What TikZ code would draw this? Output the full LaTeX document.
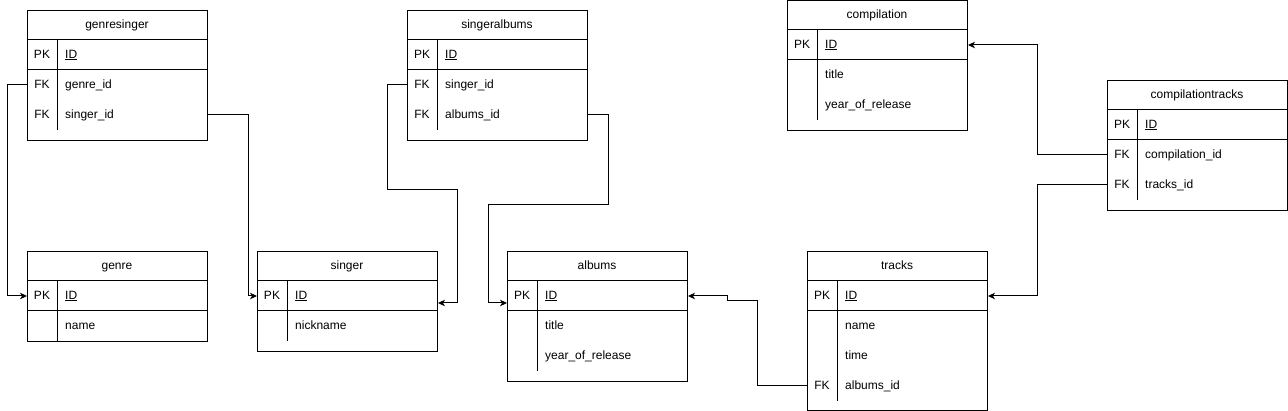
\documentclass[tikz,border=0pt]{standalone}
\usepackage{fontspec}
\setmainfont{Liberation Sans}
\usepackage{xcolor}
\usepackage{tikz}
\usetikzlibrary{positioning, arrows.meta, calc}
\definecolor{lineBlack}{HTML}{000000}
\definecolor{bodyText}{HTML}{000000}
\newcommand{\erfont}{\fontsize{12}{14}\selectfont}

\begin{document}
\begin{tikzpicture}[
  x=1pt, y=-1pt,
  every node/.style={font=\erfont, text=bodyText, inner sep=0pt,
                     text height=8.6pt, text depth=2.4pt},
  tbl/.style={rectangle, draw=lineBlack, line width=1pt, fill=white,
              minimum width=180pt, anchor=north west, text height=, text depth=},
  ttl/.style={anchor=center},
  keycol/.style={anchor=center},
  fld/.style={anchor=west},
  rule/.style={draw=lineBlack, line width=1pt},
  fk/.style={-{Stealth[length=7pt, width=6.5pt, inset=2pt]}, draw=lineBlack, line width=1pt},
]
  \useasboundingbox (0,0) rectangle (1288,411);

  % ═══ genresinger ═══
  \node[tbl, minimum height=130pt] at (27,10) (genresinger) {};
  \node[ttl] at (117,25) (gs_title) {genresinger};
  \draw[rule] (27,40) -- (207,40);
  \draw[rule] (27,70) -- (207,70);
  \draw[rule] (57,40) -- (57,130);
  \node[keycol] at (42,55) (gs_pk) {PK};
  \node[fld] at (65,55) (gs_id) {\underline{ID}};
  \node[keycol] at (42,85) (gs_fk1) {FK};
  \node[fld] at (65,85) (gs_genre) {genre\_id};
  \node[keycol] at (42,115) (gs_fk2) {FK};
  \node[fld] at (65,115) (gs_singer) {singer\_id};

  % ═══ genre ═══
  \node[tbl, minimum height=90pt] at (27,251) (genre) {};
  \node[ttl] at (117,266) (g_title) {genre};
  \draw[rule] (27,281) -- (207,281);
  \draw[rule] (27,311) -- (207,311);
  \draw[rule] (57,281) -- (57,341);
  \node[keycol] at (42,296) (g_pk) {PK};
  \node[fld] at (65,296) (g_id) {\underline{ID}};
  \node[fld] at (65,326) (g_name) {name};

  % ═══ singer ═══
  \node[tbl, minimum height=100pt] at (257,251) (singer) {};
  \node[ttl] at (347,266) (s_title) {singer};
  \draw[rule] (257,281) -- (437,281);
  \draw[rule] (257,311) -- (437,311);
  \draw[rule] (287,281) -- (287,341);
  \node[keycol] at (272,296) (s_pk) {PK};
  \node[fld] at (295,296) (s_id) {\underline{ID}};
  \node[fld] at (295,326) (s_nick) {nickname};

  % ═══ singeralbums ═══
  \node[tbl, minimum height=130pt] at (407,10) (singeralbums) {};
  \node[ttl] at (497,25) (sa_title) {singeralbums};
  \draw[rule] (407,40) -- (587,40);
  \draw[rule] (407,70) -- (587,70);
  \draw[rule] (437,40) -- (437,130);
  \node[keycol] at (422,55) (sa_pk) {PK};
  \node[fld] at (445,55) (sa_id) {\underline{ID}};
  \node[keycol] at (422,85) (sa_fk1) {FK};
  \node[fld] at (445,85) (sa_singer) {singer\_id};
  \node[keycol] at (422,115) (sa_fk2) {FK};
  \node[fld] at (445,115) (sa_albums) {albums\_id};

  % ═══ albums ═══
  \node[tbl, minimum height=130pt] at (507,251) (albums) {};
  \node[ttl] at (597,266) (a_title) {albums};
  \draw[rule] (507,281) -- (687,281);
  \draw[rule] (507,311) -- (687,311);
  \draw[rule] (537,281) -- (537,371);
  \node[keycol] at (522,296) (a_pk) {PK};
  \node[fld] at (545,296) (a_id) {\underline{ID}};
  \node[fld] at (545,326) (a_title_f) {title};
  \node[fld] at (545,356) (a_year) {year\_of\_release};

  % ═══ tracks ═══
  \node[tbl, minimum height=159pt] at (807,251) (tracks) {};
  \node[ttl] at (897,266) (t_title) {tracks};
  \draw[rule] (807,281) -- (987,281);
  \draw[rule] (807,311) -- (987,311);
  \draw[rule] (837,281) -- (837,401);
  \node[keycol] at (822,296) (t_pk) {PK};
  \node[fld] at (845,296) (t_id) {\underline{ID}};
  \node[fld] at (845,326) (t_name) {name};
  \node[fld] at (845,356) (t_time) {time};
  \node[keycol] at (822,386) (t_fk) {FK};
  \node[fld] at (845,386) (t_albums) {albums\_id};

  % ═══ compilation ═══
  \node[tbl, minimum height=129.5pt] at (787,0.5) (compilation) {};
  \node[ttl] at (877,15) (c_title) {compilation};
  \draw[rule] (787,30) -- (967,30);
  \draw[rule] (787,60) -- (967,60);
  \draw[rule] (817,30) -- (817,120);
  \node[keycol] at (802,45) (c_pk) {PK};
  \node[fld] at (825,45) (c_id) {\underline{ID}};
  \node[fld] at (825,75) (c_title_f) {title};
  \node[fld] at (825,105) (c_year) {year\_of\_release};

  % ═══ compilationtracks ═══
  \node[tbl, minimum height=130pt] at (1107,80) (comptracks) {};
  \node[ttl] at (1197,95) (ct_title) {compilationtracks};
  \draw[rule] (1107,110) -- (1287,110);
  \draw[rule] (1107,140) -- (1287,140);
  \draw[rule] (1137,110) -- (1137,200);
  \node[keycol] at (1122,125) (ct_pk) {PK};
  \node[fld] at (1145,125) (ct_id) {\underline{ID}};
  \node[keycol] at (1122,155) (ct_fk1) {FK};
  \node[fld] at (1145,155) (ct_comp) {compilation\_id};
  \node[keycol] at (1122,185) (ct_fk2) {FK};
  \node[fld] at (1145,185) (ct_tracks) {tracks\_id};

  % ═══ foreign keys ═══
  \draw[fk] (genresinger.west |- gs_genre) -- ++(-20,0) |- (genre.west |- g_id);
  \draw[fk] (genresinger.east |- gs_singer) -- ++(40,0) |- (singer.west |- s_id);
  \draw[fk] (singeralbums.west |- sa_singer) -- ++(-20,0) -- ++(0,105) -- ++(70,0)
        |- ([yshift=-7pt]singer.east |- s_id);
  \draw[fk] (singeralbums.east |- sa_albums) -- ++(20,0) -- ++(0,90) -- ++(-120,0)
        |- ([yshift=-7pt]albums.west |- a_id);
  \draw[fk] (tracks.west |- t_albums) -- ++(-50,0) -- ++(0,-85) -- ++(-30,0)
        |- (albums.east |- a_id);
  \draw[fk] (comptracks.west |- ct_comp) -- ++(-70,0) |- (compilation.east |- c_id);
  \draw[fk] (comptracks.west |- ct_tracks) -- ++(-70,0) |- (tracks.east |- t_id);
\end{tikzpicture}
\end{document}
